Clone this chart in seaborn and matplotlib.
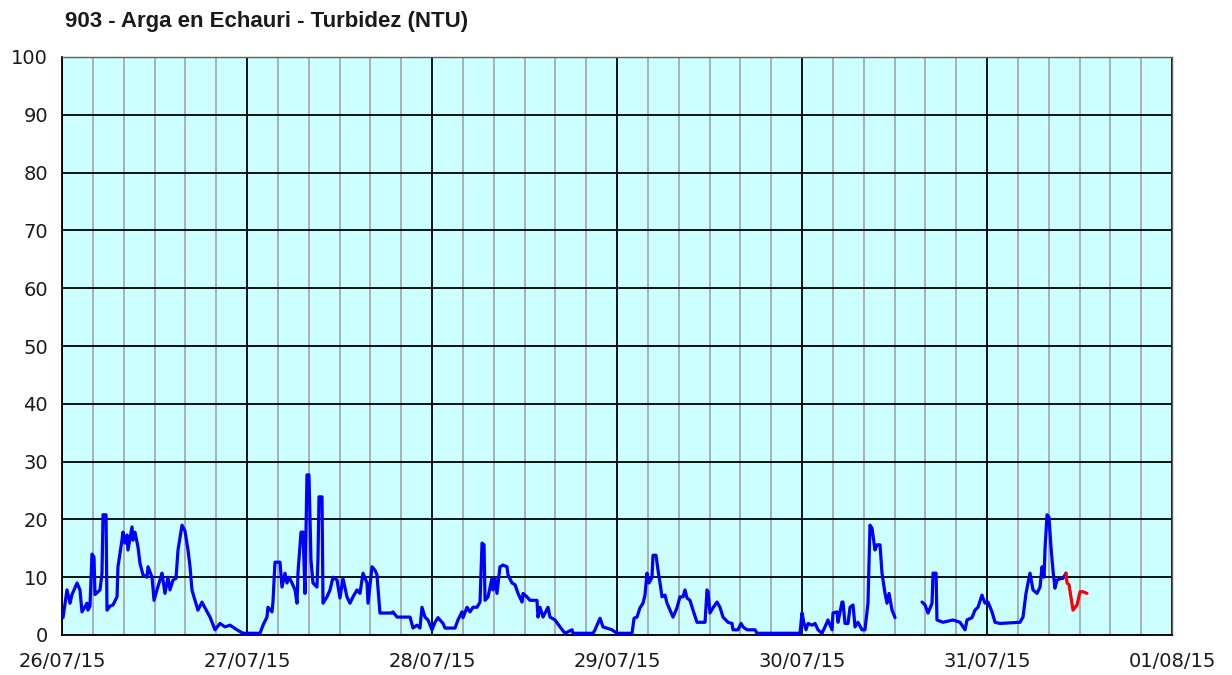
import matplotlib
matplotlib.use('Agg')
import matplotlib.pyplot as plt
import matplotlib.dates as mdates
import seaborn as sns
import pandas as pd
import numpy as np

# Horas desde 26/07/15 00:00 y turbidez (NTU)
horas_1 = [0.13, 0.65, 1.04, 1.30, 1.95, 2.33, 2.59, 3.24, 3.37, 3.63, 3.89, 4.15, 4.28, 4.93,
           5.19, 5.32, 5.71, 5.84, 6.23, 6.62, 7.14, 7.26, 7.78, 7.91, 8.17, 8.43, 8.56, 9.08,
           9.21, 9.47, 9.86, 10.12, 10.51, 11.03, 11.16, 11.68, 11.94, 12.32, 12.71, 12.97,
           13.36, 13.75, 14.01, 14.40, 14.79, 15.05, 15.57, 15.96, 16.35, 16.61, 16.86, 17.25,
           17.64, 18.16, 18.55, 19.20, 19.85, 20.50, 21.15, 21.80, 22.70, 23.48,
           25.69, 26.08, 26.59, 26.72, 27.24, 27.37, 27.63, 28.28, 28.54, 28.93, 29.19, 29.45,
           29.84, 30.23, 30.49, 30.62, 31.01, 31.27, 31.52, 31.78, 32.04, 32.30, 32.56, 33.08,
           33.21, 33.34, 33.73, 33.86, 34.38, 34.77, 35.16, 35.68, 36.06, 36.45, 36.97, 37.36,
           37.75, 38.27, 38.66, 39.05, 39.57, 39.70, 40.22, 40.61, 40.86, 41.25, 42.16, 42.81,
           42.94, 43.46, 45.15, 45.54, 46.05, 46.44, 46.70, 47.09, 47.48, 48.00, 48.39, 48.78,
           49.43, 49.69, 50.98, 51.37, 51.89, 52.02, 52.54, 52.93, 53.32, 53.84, 54.23, 54.49,
           54.75, 54.88, 55.27, 55.78, 55.91, 56.17, 56.43, 56.82, 57.21, 57.73, 57.86, 58.38,
           58.77, 59.16, 59.68, 59.81, 60.32, 60.71, 61.62, 61.75, 62.01, 62.40, 63.05, 63.31,
           63.96, 64.61, 65.25, 66.16, 66.29, 68.89, 69.15, 69.80, 70.18, 71.35, 72.00,
           73.95, 74.21, 74.60, 74.98, 75.37, 75.63, 75.89, 76.15, 76.54, 76.67, 77.06, 77.32,
           77.58, 77.84, 78.23, 78.49, 78.88, 79.27, 79.78, 80.17, 80.56, 80.82, 81.08, 81.47,
           81.86, 82.38, 83.42, 83.68, 83.81, 84.06, 84.45, 84.97, 85.36, 85.75, 86.40, 86.92,
           87.05, 87.70, 88.09, 88.35, 88.87, 89.90, 90.16, 95.74,
           96.00, 96.26, 96.52, 96.78, 97.30, 97.69, 98.08, 98.59, 98.98, 99.37, 99.89, 100.02,
           100.54, 100.67, 101.19, 101.32, 101.58, 101.97, 102.23, 102.62, 102.88, 103.26,
           103.78, 104.17, 104.56, 104.82, 105.08, 105.47, 105.73, 106.12, 106.38, 106.77,
           107.03, 107.29, 107.68, 108.07]
turb_1 = [3.0, 7.8, 5.5, 7.0, 9.0, 7.8, 4.0, 5.5, 4.3, 5.0, 14.0, 13.5, 7.0, 7.8,
          10.7, 20.8, 20.8, 4.3, 5.0, 5.2, 6.6, 11.8, 16.4, 17.8, 15.9, 17.3, 14.7, 18.7,
          16.4, 17.8, 15.2, 12.4, 10.4, 10.0, 11.8, 10.0, 6.0, 7.8, 9.5, 10.7,
          7.2, 10.0, 7.8, 9.5, 9.8, 14.7, 19.0, 18.0, 14.7, 11.8, 7.8, 6.0,
          4.3, 5.7, 4.7, 3.1, 0.9, 2.0, 1.4, 1.7, 0.9, 0.3,
          0.3, 1.7, 3.1, 4.8, 4.0, 5.7, 12.6, 12.6, 8.3, 10.7, 9.0, 10.0,
          9.0, 7.8, 5.5, 10.9, 17.8, 17.8, 7.2, 27.7, 27.7, 13.0, 9.0, 8.3,
          13.3, 23.9, 23.9, 5.5, 6.6, 7.8, 10.0, 9.5, 6.4, 9.8, 6.6, 5.5,
          6.6, 7.8, 7.2, 10.7, 9.0, 5.5, 11.8, 11.2, 10.4, 3.8, 3.8, 3.8,
          4.0, 3.1, 3.1, 1.2, 1.7, 1.2, 4.8, 3.1, 2.6, 0.9, 2.2, 3.0,
          2.0, 1.2, 1.2, 2.6, 4.0, 3.0, 4.8, 4.0, 4.8, 4.8, 5.7, 15.9,
          15.6, 6.0, 6.6, 9.8, 7.8, 9.8, 7.2, 11.8, 12.1, 11.8, 10.4, 9.0,
          8.7, 7.2, 5.7, 7.2, 6.6, 6.0, 6.0, 3.1, 4.8, 3.1, 4.8, 3.1,
          2.6, 1.4, 0.3, 0.9, 0.3, 0.3, 0.9, 2.9, 1.4, 0.9, 0.3,
          0.3, 2.9, 3.1, 4.7, 5.5, 6.9, 10.7, 9.0, 10.0, 13.8, 13.8, 11.2,
          9.0, 6.6, 6.9, 5.5, 4.3, 3.1, 4.7, 6.6, 6.6, 7.8, 6.4, 6.0,
          4.3, 2.2, 2.2, 7.8, 7.5, 3.8, 4.7, 5.7, 4.8, 3.1, 2.2, 2.0,
          0.9, 0.9, 2.0, 1.4, 0.9, 0.9, 0.3, 0.3,
          3.8, 2.0, 0.9, 2.0, 1.7, 2.0, 0.9, 0.3, 1.4, 2.6, 0.9, 3.8,
          4.0, 2.2, 5.7, 5.7, 2.0, 2.0, 4.8, 5.2, 1.4, 2.2,
          0.9, 0.9, 5.5, 19.0, 18.5, 14.7, 15.6, 15.6, 10.7, 7.2,
          5.5, 7.2, 4.3, 3.0]

# tramo tras el hueco de datos
horas_2 = [111.57, 111.96, 112.35, 112.87, 113.00, 113.39, 113.51, 114.29, 115.59, 116.50,
           117.15, 117.41, 118.05, 118.44, 118.83, 119.35, 119.74, 120.13, 120.65, 121.04,
           121.69, 124.28, 124.67, 125.06, 125.32, 125.58, 125.97, 126.49, 126.88, 127.14,
           127.40, 127.53, 127.79, 128.04, 128.30, 128.56, 128.82, 129.08, 129.60, 129.86,
           130.25]
turb_2 = [5.7, 5.2, 3.8, 5.5, 10.7, 10.7, 2.6, 2.2, 2.6, 2.2,
          0.9, 2.6, 3.0, 4.3, 4.8, 6.9, 5.5, 5.7, 4.0, 2.2,
          2.0, 2.2, 3.1, 7.2, 9.0, 10.7, 7.8, 7.2, 8.3, 11.8,
          10.0, 15.0, 20.8, 20.4, 15.2, 11.2, 8.1, 9.5, 9.8, 9.8,
          10.7]

# datos provisionales (rojo)
horas_3 = [130.25, 130.38, 130.64, 131.16, 131.68, 132.07, 132.45, 132.97]
turb_3 = [10.7, 9.0, 8.7, 4.3, 5.2, 7.5, 7.5, 7.2]

inicio = pd.Timestamp('2015-07-26')
tramos = []
for nombre, h, v in [('a', horas_1, turb_1), ('b', horas_2, turb_2), ('c', horas_3, turb_3)]:
    tramos.append(pd.DataFrame({'fecha': inicio + pd.to_timedelta(h, unit='h'),
                                'turbidez': v, 'tramo': nombre}))
df = pd.concat(tramos, ignore_index=True)
colores = {'a': '#0000FF', 'b': '#0000FF', 'c': '#FF0000'}

sns.set_style('white')
plt.rcParams['font.family'] = ['DejaVu Sans']

fig = plt.figure(figsize=(12.32, 6.75), dpi=100)
ax = fig.add_axes([62 / 1232, 40 / 675, 1110 / 1232, 578 / 675])
ax.set_facecolor('#CCFFFF')

sns.lineplot(data=df, x='fecha', y='turbidez', hue='tramo', units='tramo', estimator=None,
             palette=colores, linewidth=2.3, legend=False, ax=ax, zorder=5)

ax.set_xlim(inicio, inicio + pd.Timedelta(days=6))
ax.set_ylim(0, 100)
ax.set_yticks(range(0, 101, 10))
ax.xaxis.set_major_locator(mdates.DayLocator())
ax.xaxis.set_major_formatter(mdates.DateFormatter('%d/%m/%y'))
ax.xaxis.set_minor_locator(mdates.HourLocator(byhour=range(0, 24, 4)))

# rejilla
ax.grid(which='minor', axis='x', color='#A8A8A8', linewidth=1.3, zorder=1)
ax.grid(which='major', axis='x', color='black', linewidth=1.3, zorder=2)
ax.grid(which='major', axis='y', color='black', linewidth=1.3, zorder=2)
ax.set_axisbelow(True)

for lado in ['left', 'bottom']:
    ax.spines[lado].set_color('black')
    ax.spines[lado].set_linewidth(1.3)
for lado in ['top', 'right']:
    ax.spines[lado].set_color('#606060')
    ax.spines[lado].set_linewidth(1.0)

ax.tick_params(axis='both', which='major', direction='out', length=5, width=1.2,
               color='black', labelsize=14, labelcolor='#1a1a1a')
ax.tick_params(axis='x', which='minor', length=0)
ax.tick_params(axis='y', pad=5)
ax.tick_params(axis='x', pad=7)
ax.set_xlabel('')
ax.set_ylabel('')

fig.text(65 / 1232, 1 - 22 / 675, '903 - Arga en Echauri - Turbidez (NTU)',
         fontsize=16, fontweight='bold', family='Liberation Sans', va='center', ha='left',
         color='#1a1a1a')

fig.savefig('out.png', dpi=100)
